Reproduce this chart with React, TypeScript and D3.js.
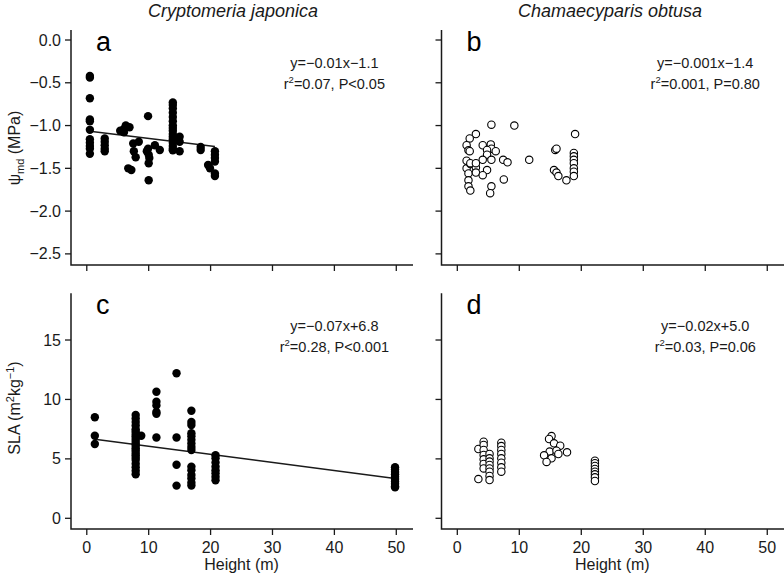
import * as d3 from "d3";

// Height (m) vs midday water potential (MPa) / SLA
const psiTicks = [0, -0.5, -1, -1.5, -2, -2.5];
const slaTicks = [0, 5, 10, 15];
const heightTicks = [0, 10, 20, 30, 40, 50];

const cryptoPsi: [number, number][] = [
  [0.5, -0.42], [0.5, -0.44], [0.5, -0.68], [0.5, -0.93], [0.5, -0.95], [0.5, -1.05],
  [0.5, -1.16], [0.5, -1.2], [0.5, -1.24], [0.5, -1.27], [0.5, -1.33],
  [2.9, -1.15], [2.9, -1.19], [2.9, -1.23], [2.9, -1.27], [2.9, -1.3],
  [5.4, -1.06], [6.0, -1.04], [6.3, -1.0], [6.9, -1.02], [6.0, -1.08],
  [6.7, -1.5], [7.2, -1.52],
  [7.5, -1.21], [7.6, -1.3], [7.9, -1.37], [8.4, -1.19],
  [9.9, -0.89], [9.9, -1.27], [9.7, -1.3], [10.0, -1.34], [10.1, -1.38], [10.0, -1.44], [10.0, -1.64],
  [11.0, -1.23], [11.8, -1.285],
  [13.9, -0.73], [13.9, -0.76], [13.9, -0.8], [13.9, -0.85], [13.9, -0.9], [13.9, -0.95],
  [13.9, -1.0], [13.9, -1.03], [13.9, -1.06], [13.9, -1.1], [13.9, -1.13], [13.9, -1.16],
  [13.9, -1.2], [13.9, -1.24], [13.9, -1.27], [13.9, -1.29],
  [15.0, -1.13], [15.0, -1.19], [15.0, -1.3],
  [18.4, -1.25], [18.4, -1.285],
  [20.7, -1.3], [20.7, -1.34], [20.7, -1.38], [20.7, -1.42], [19.6, -1.46], [19.9, -1.5],
  [20.7, -1.56], [20.7, -1.59],
];

const chamaePsi: [number, number][] = [
  [5.5, -0.99], [9.2, -1.0], [3.0, -1.1], [2.0, -1.15], [19.0, -1.1],
  [1.5, -1.23], [1.8, -1.29], [2.0, -1.3], [4.1, -1.23], [5.4, -1.22], [5.5, -1.27],
  [4.8, -1.285], [6.2, -1.3], [4.8, -1.34], [4.1, -1.4], [5.5, -1.4], [7.4, -1.4],
  [8.1, -1.43], [11.6, -1.4], [15.8, -1.285], [16.0, -1.27],
  [18.8, -1.32], [18.8, -1.36], [18.8, -1.4], [18.8, -1.44], [18.8, -1.5], [18.8, -1.54], [18.8, -1.59],
  [15.6, -1.52], [16.0, -1.55], [16.3, -1.59], [17.6, -1.64],
  [1.5, -1.5], [2.1, -1.45], [1.8, -1.56], [3.0, -1.49], [3.0, -1.55], [4.8, -1.52],
  [4.1, -1.58], [7.5, -1.63], [1.8, -1.64], [1.8, -1.71], [2.1, -1.76], [5.5, -1.71], [5.3, -1.79],
  [1.5, -1.41], [2.1, -1.44], [3.0, -1.44],
];

const cryptoSla: [number, number][] = [
  [1.3, 8.5], [1.3, 6.95], [1.3, 6.25],
  [7.9, 8.7], [7.9, 8.4], [7.9, 8.1], [7.9, 7.8], [7.9, 7.5], [7.9, 7.3], [7.9, 7.1], [7.9, 6.9],
  [7.9, 6.7], [7.9, 6.5], [7.9, 6.3], [7.9, 6.1], [7.9, 5.9], [7.9, 5.7], [7.9, 5.5], [7.9, 5.3],
  [7.9, 5.1], [7.9, 4.9], [7.9, 4.6], [7.9, 4.3], [7.9, 4.0], [7.9, 3.7], [8.8, 6.95],
  [11.25, 10.65], [11.25, 9.8], [11.25, 9.5], [11.25, 8.95], [11.25, 8.8], [11.25, 6.8],
  [14.5, 12.2], [14.5, 6.8], [14.5, 4.5], [14.5, 2.75],
  [16.9, 9.05], [16.9, 8.1], [16.9, 7.85], [16.9, 7.15], [16.9, 6.9], [16.9, 6.6], [16.9, 6.3],
  [16.9, 6.0], [16.9, 5.75], [16.9, 4.35], [16.9, 4.05], [16.9, 3.65], [16.9, 3.35], [16.9, 3.0], [16.9, 2.75],
  [20.8, 5.3], [20.8, 5.05], [20.8, 4.7], [20.8, 4.35], [20.8, 4.05], [20.8, 3.8], [20.8, 3.5], [20.8, 3.2],
  [49.8, 4.3], [49.8, 4.1], [49.8, 3.9], [49.8, 3.7], [49.8, 3.5], [49.8, 3.3], [49.8, 3.1],
  [49.8, 2.9], [49.8, 2.7], [49.8, 2.6],
];

const chamaeSla: [number, number][] = [
  [3.4, 5.83], [3.4, 3.3],
  [4.25, 6.45], [4.25, 6.17], [4.25, 5.75], [4.25, 5.33], [4.25, 4.96], [4.25, 4.57], [4.25, 4.2],
  [5.2, 5.41], [5.2, 5.05], [5.2, 4.77], [5.2, 4.49], [5.2, 4.2], [5.2, 3.92], [5.2, 3.56], [5.2, 3.22],
  [7.1, 6.36], [7.1, 6.08], [7.1, 5.75], [7.1, 5.41], [7.1, 5.05], [7.1, 4.68], [7.1, 4.29], [7.1, 3.92],
  [15.2, 6.92], [14.8, 6.67], [15.6, 6.31], [16.6, 6.11], [14.9, 5.61], [16.0, 5.69], [17.7, 5.55],
  [14.0, 5.3], [16.3, 5.41], [15.2, 5.05], [14.4, 4.74],
  [22.2, 4.85], [22.2, 4.63], [22.2, 4.4], [22.2, 4.15], [22.2, 3.92], [22.2, 3.7], [22.2, 3.45], [22.2, 3.14],
];

// fitted lines: [slope, intercept, xmin, xmax]
const cryptoPsiFit = [-0.0088, -1.062, 0.5, 20.7];
const cryptoSlaFit = [-0.068, 6.74, 1.3, 49.8];

const FONT = "'Liberation Sans', Arial, sans-serif";
const INK = "#1a1a1a";

type PanelProps = {
  left: number;
  right: number;
  top: number;
  bottom: number;
  yDomain: [number, number];
  yTicks: number[];
  yFormat: (v: number) => string;
  data: [number, number][];
  filled: boolean;
  letter: string;
  eq: string;
  r2: string;
  stat: string;
  fit?: number[];
  showYLabels: boolean;
  showXLabels: boolean;
};

function Panel(p: PanelProps) {
  const x = d3.scaleLinear().domain([-2.55, 52.7]).range([p.left, p.right]);
  const y = d3.scaleLinear().domain(p.yDomain).range([p.bottom, p.top]);
  const line = d3.line<number>().x((v) => x(v)).y((v) => y(p.fit![0] * v + p.fit![1]));
  const tx = x(40);
  return (
    <g>
      {/* axes */}
      <path
        d={`M${p.left},${p.top}V${p.bottom}H${p.right}`}
        fill="none"
        stroke={INK}
        strokeWidth={1.5}
      />
      {p.yTicks.map((t) => (
        <g key={"y" + t}>
          <line x1={p.left - 6} x2={p.left} y1={y(t)} y2={y(t)} stroke={INK} strokeWidth={1.3} />
          {p.showYLabels && (
            <text x={p.left - 10} y={y(t)} dy="0.35em" textAnchor="end" fontSize={16} fill={INK}>
              {p.yFormat(t)}
            </text>
          )}
        </g>
      ))}
      {heightTicks.map((t) => (
        <g key={"x" + t}>
          <line x1={x(t)} x2={x(t)} y1={p.bottom} y2={p.bottom + 6} stroke={INK} strokeWidth={1.3} />
          {p.showXLabels && (
            <text x={x(t)} y={p.bottom + 23.5} textAnchor="middle" fontSize={16} fill={INK}>
              {t}
            </text>
          )}
        </g>
      ))}
      {p.showXLabels && (
        <text x={x(25)} y={p.bottom + 41} textAnchor="middle" fontSize={16} fill={INK}>
          Height (m)
        </text>
      )}
      {p.fit && (
        <path d={line([p.fit[2], p.fit[3]])!} fill="none" stroke={INK} strokeWidth={1.4} />
      )}
      {p.data.map((d, i) =>
        p.filled ? (
          <circle key={i} cx={x(d[0])} cy={y(d[1])} r={4.2} fill="#000" />
        ) : (
          <circle key={i} cx={x(d[0])} cy={y(d[1])} r={3.7} fill="#fff" stroke="#000" strokeWidth={1.1} />
        )
      )}
      <text x={p.left + 25} y={p.top + 20.5} fontSize={27} fill="#000">
        {p.letter}
      </text>
      <text x={tx} y={p.top + 37.5} textAnchor="middle" fontSize={14.5} fill={INK}>
        {p.eq}
      </text>
      <text x={tx} y={p.top + 59} textAnchor="middle" fontSize={14.5} fill={INK}>
        r<tspan dy={-6} fontSize={9.5}>2</tspan>
        <tspan dy={6}>{p.r2 + ", " + p.stat}</tspan>
      </text>
    </g>
  );
}

export default function App() {
  const f1 = d3.format(".1f");
  const f0 = d3.format("d");
  const L = [71, 413];
  const R = [441.5, 784];
  const top = [30, 265] as const;
  const bot = [293.3, 529] as const;
  const psiDom: [number, number] = [-2.63, 0.117];
  const slaDom: [number, number] = [-0.9, 18.93];
  return (
    <svg
      width={784}
      height={577}
      style={{ position: "absolute", left: 0, top: 0, background: "#fff" }}
      fontFamily={FONT}
    >
      <rect width={784} height={577} fill="#fff" />
      <text x={233} y={16.5} textAnchor="middle" fontSize={18} fontStyle="italic" fill={INK}>
        Cryptomeria japonica
      </text>
      <text x={610} y={16.5} textAnchor="middle" fontSize={18} fontStyle="italic" fill={INK}>
        Chamaecyparis obtusa
      </text>
      <text transform="translate(20,148) rotate(-90)" textAnchor="middle" fontSize={16} fill={INK}>
        ψ<tspan dy={4} fontSize={11}>md</tspan>
        <tspan dy={-4}> (MPa)</tspan>
      </text>
      <text transform="translate(20,408) rotate(-90)" textAnchor="middle" fontSize={16} fill={INK}>
        SLA (m<tspan dy={-6} fontSize={11}>2</tspan>
        <tspan dy={6}>kg</tspan>
        <tspan dy={-6} fontSize={11}>−1</tspan>
        <tspan dy={6}>)</tspan>
      </text>
      <Panel
        left={L[0]} right={L[1]} top={top[0]} bottom={top[1]}
        yDomain={psiDom} yTicks={psiTicks} yFormat={f1}
        data={cryptoPsi} filled letter="a"
        eq="y=−0.01x−1.1" r2="=0.07" stat="P<0.05" fit={cryptoPsiFit}
        showYLabels showXLabels={false}
      />
      <Panel
        left={R[0]} right={R[1]} top={top[0]} bottom={top[1]}
        yDomain={psiDom} yTicks={psiTicks} yFormat={f1}
        data={chamaePsi} filled={false} letter="b"
        eq="y=−0.001x−1.4" r2="=0.001" stat="P=0.80"
        showYLabels={false} showXLabels={false}
      />
      <Panel
        left={L[0]} right={L[1]} top={bot[0]} bottom={bot[1]}
        yDomain={slaDom} yTicks={slaTicks} yFormat={f0}
        data={cryptoSla} filled letter="c"
        eq="y=−0.07x+6.8" r2="=0.28" stat="P<0.001" fit={cryptoSlaFit}
        showYLabels showXLabels
      />
      <Panel
        left={R[0]} right={R[1]} top={bot[0]} bottom={bot[1]}
        yDomain={slaDom} yTicks={slaTicks} yFormat={f0}
        data={chamaeSla} filled={false} letter="d"
        eq="y=−0.02x+5.0" r2="=0.03" stat="P=0.06"
        showYLabels={false} showXLabels
      />
    </svg>
  );
}
